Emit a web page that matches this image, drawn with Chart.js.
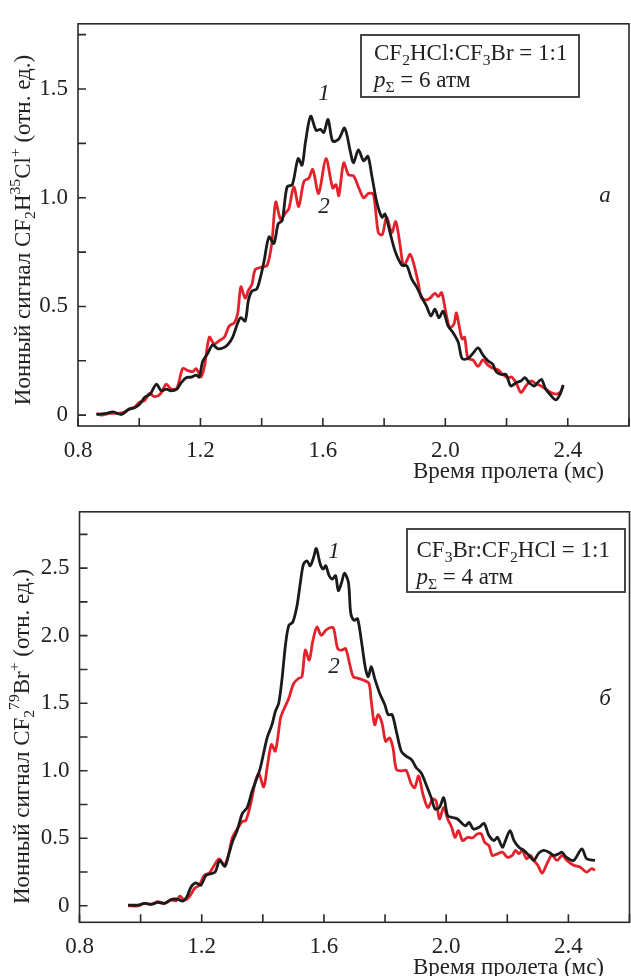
<!DOCTYPE html>
<html><head><meta charset="utf-8">
<script src="https://cdn.jsdelivr.net/npm/chart.js@4"></script>
<style>
html,body{margin:0;padding:0;background:#fff;overflow:hidden;width:631px;height:976px;position:relative}
.wrap{position:absolute;left:0;width:640px;height:488px}
</style></head><body>
<div class="wrap" style="top:0"><canvas id="c1" width="640" height="488"></canvas></div>
<div class="wrap" style="top:488px"><canvas id="c2" width="640" height="488"></canvas></div>
<script>
// ---- Panel a: CF2H35Cl+ signal ----
const timeA1 = [0.86,0.893,0.915,0.942,0.964,0.985,1.001,1.018,1.036,1.056,1.072,1.088,1.104,1.123,1.137,1.153,1.170,1.186,1.196,1.207,1.224,1.240,1.256,1.273,1.289,1.305,1.322,1.332,1.346,1.357,1.368,1.384,1.397,1.408,1.424,1.440,1.454,1.467,1.483,1.500,1.519,1.532,1.543,1.560,1.578,1.592,1.603,1.617,1.632,1.652,1.671,1.690,1.700,1.716,1.733,1.747,1.760,1.776,1.793,1.803,1.820,1.836,1.858,1.874,1.890,1.906,1.922,1.939,1.953,1.966,1.979,1.993,2.009,2.025,2.042,2.055,2.074,2.090,2.107,2.123,2.139,2.155,2.166,2.182,2.198,2.214,2.231,2.247,2.260,2.274,2.291,2.301,2.314,2.328,2.345,2.361,2.375,2.385];
const signalA1 = [0.003,0.008,0.015,0.003,0.025,0.034,0.05,0.082,0.097,0.142,0.112,0.12,0.112,0.12,0.149,0.172,0.175,0.184,0.175,0.246,0.284,0.324,0.306,0.309,0.324,0.358,0.425,0.448,0.433,0.53,0.57,0.58,0.64,0.71,0.82,0.79,0.88,0.895,1.05,1.06,1.18,1.15,1.255,1.375,1.31,1.314,1.30,1.36,1.26,1.27,1.32,1.21,1.16,1.22,1.17,1.19,1.10,0.98,0.91,0.925,0.836,0.754,0.69,0.687,0.627,0.59,0.545,0.50,0.456,0.488,0.448,0.478,0.41,0.38,0.336,0.26,0.26,0.284,0.309,0.276,0.25,0.234,0.20,0.187,0.187,0.134,0.149,0.157,0.172,0.149,0.134,0.149,0.164,0.12,0.09,0.07,0.097,0.139];
const timeA2 = [0.861,0.877,0.904,0.931,0.953,0.969,0.985,1.001,1.018,1.034,1.050,1.069,1.088,1.104,1.123,1.142,1.159,1.175,1.186,1.202,1.213,1.229,1.245,1.262,1.278,1.294,1.311,1.322,1.332,1.346,1.357,1.368,1.379,1.399,1.418,1.433,1.446,1.462,1.478,1.489,1.505,1.521,1.538,1.554,1.567,1.586,1.610,1.632,1.643,1.652,1.668,1.684,1.700,1.716,1.733,1.749,1.765,1.781,1.794,1.808,1.825,1.838,1.852,1.863,1.874,1.885,1.896,1.912,1.922,1.939,1.950,1.966,1.977,1.988,2.000,2.014,2.028,2.036,2.047,2.055,2.063,2.074,2.090,2.107,2.123,2.139,2.155,2.172,2.188,2.204,2.217,2.231,2.247,2.263,2.280,2.296,2.312,2.328,2.345,2.361,2.375,2.385];
const signalA2 = [0.008,0.0,0.008,0.008,0.015,0.03,0.037,0.06,0.067,0.10,0.085,0.097,0.142,0.12,0.124,0.214,0.205,0.20,0.214,0.175,0.224,0.358,0.328,0.343,0.358,0.41,0.425,0.47,0.59,0.538,0.575,0.60,0.67,0.68,0.69,0.79,0.98,0.90,0.93,0.95,1.05,0.96,1.075,1.09,1.13,1.02,1.18,1.045,1.06,1.01,1.16,1.105,1.10,1.05,1.00,1.02,1.015,0.84,0.83,0.91,0.84,0.89,0.784,0.687,0.71,0.74,0.70,0.605,0.538,0.53,0.538,0.56,0.545,0.563,0.485,0.403,0.418,0.47,0.396,0.35,0.358,0.26,0.254,0.224,0.254,0.23,0.216,0.209,0.187,0.172,0.175,0.149,0.104,0.134,0.157,0.145,0.134,0.12,0.104,0.097,0.104,0.134];
// ---- Panel б: CF2 79Br+ signal ----
const timeB1 = [0.959,0.991,1.013,1.035,1.056,1.078,1.100,1.121,1.138,1.151,1.165,1.181,1.197,1.214,1.230,1.244,1.259,1.276,1.289,1.302,1.316,1.333,1.349,1.365,1.381,1.392,1.414,1.430,1.441,1.452,1.463,1.474,1.485,1.498,1.512,1.523,1.533,1.544,1.555,1.566,1.575,1.588,1.598,1.606,1.617,1.628,1.638,1.647,1.658,1.667,1.680,1.688,1.699,1.710,1.723,1.736,1.745,1.755,1.766,1.783,1.799,1.810,1.823,1.837,1.853,1.869,1.886,1.902,1.918,1.934,1.951,1.964,1.978,1.992,2.005,2.021,2.037,2.054,2.064,2.075,2.089,2.108,2.124,2.140,2.157,2.168,2.184,2.194,2.209,2.222,2.238,2.254,2.271,2.287,2.303,2.319,2.336,2.352,2.368,2.379,2.393,2.417,2.444,2.460,2.487];
const signalB1 = [0.005,0.005,0.018,0.012,0.025,0.018,0.047,0.049,0.035,0.066,0.14,0.17,0.152,0.226,0.238,0.25,0.336,0.292,0.385,0.483,0.557,0.684,0.728,0.85,0.948,1.022,1.243,1.341,1.439,1.50,1.684,1.929,2.076,2.10,2.224,2.395,2.529,2.554,2.518,2.579,2.645,2.529,2.493,2.518,2.444,2.419,2.444,2.334,2.395,2.463,2.395,2.162,2.113,2.125,1.954,1.757,1.696,1.77,1.684,1.57,1.49,1.415,1.415,1.292,1.145,1.108,1.084,1.022,0.985,0.90,0.801,0.716,0.728,0.801,0.667,0.654,0.643,0.606,0.593,0.618,0.569,0.581,0.61,0.52,0.483,0.507,0.434,0.483,0.557,0.483,0.434,0.41,0.373,0.336,0.39,0.41,0.397,0.373,0.385,0.397,0.36,0.336,0.422,0.348,0.336];
const timeB2 = [0.959,0.991,1.013,1.035,1.056,1.078,1.100,1.116,1.129,1.143,1.159,1.176,1.192,1.208,1.225,1.241,1.257,1.273,1.287,1.300,1.316,1.333,1.344,1.360,1.376,1.387,1.403,1.414,1.428,1.441,1.458,1.468,1.485,1.501,1.517,1.528,1.539,1.552,1.563,1.577,1.591,1.606,1.617,1.631,1.645,1.658,1.671,1.685,1.696,1.712,1.728,1.747,1.755,1.766,1.777,1.790,1.802,1.815,1.826,1.837,1.853,1.869,1.886,1.897,1.910,1.924,1.940,1.956,1.967,1.978,1.992,2.005,2.018,2.029,2.040,2.054,2.070,2.086,2.102,2.115,2.126,2.140,2.151,2.168,2.184,2.200,2.216,2.227,2.238,2.249,2.263,2.276,2.287,2.300,2.314,2.330,2.346,2.363,2.379,2.395,2.417,2.438,2.460,2.476,2.487];
const signalB2 = [0.0,0.0,0.018,0.01,0.03,0.018,0.042,0.037,0.071,0.042,0.066,0.128,0.152,0.226,0.243,0.30,0.348,0.30,0.373,0.503,0.569,0.625,0.63,0.753,0.924,0.978,0.88,1.022,1.194,1.145,1.39,1.451,1.537,1.647,1.684,1.696,1.893,1.819,1.954,2.064,2.003,2.04,2.057,2.057,1.904,1.893,1.904,1.782,1.696,1.684,1.672,1.647,1.513,1.341,1.415,1.353,1.218,1.243,1.169,1.01,0.998,1.003,0.90,0.875,0.961,0.826,0.728,0.79,0.777,0.643,0.728,0.643,0.581,0.507,0.557,0.483,0.507,0.503,0.532,0.532,0.47,0.446,0.373,0.385,0.397,0.36,0.373,0.41,0.385,0.41,0.348,0.373,0.336,0.30,0.243,0.312,0.373,0.336,0.373,0.336,0.30,0.287,0.25,0.275,0.263];

const xTickLabels = ['0.8','1.2','1.6','2.0','2.4'];
const yTickLabelsA = ['0','0.5','1.0','1.5'];
const yTickLabelsB = ['0','0.5','1.0','1.5','2.0','2.5'];
const xTitle = 'Время пролета (мс)';
const curveNames = ['1','2'];

const FONT = '"Liberation Serif","Times New Roman",serif';
const BLACK = '#1b1b1b', RED = '#e5212b', AXIS = '#2a2a2a';
const TXT = 23;

function richWidth(ctx, segs, size){
  let w=0;
  for(const s of segs){
    const fs = s.s ? size*0.68 : size;
    ctx.font = (s.i?'italic ':'') + fs + 'px ' + FONT;
    w += ctx.measureText(s.t).width;
  }
  return w;
}
function drawRich(ctx, segs, x, y, size, align){
  const w = richWidth(ctx, segs, size);
  let cx = align==='center' ? x - w/2 : (align==='right' ? x - w : x);
  ctx.textBaseline = 'alphabetic';
  ctx.textAlign = 'left';
  for(const s of segs){
    const fs = s.s ? size*0.68 : size;
    ctx.font = (s.i?'italic ':'') + fs + 'px ' + FONT;
    let dy = 0;
    if(s.s==='sub') dy = size*0.22;
    if(s.s==='sup') dy = -size*0.42;
    ctx.fillText(s.t, cx, y+dy);
    cx += ctx.measureText(s.t).width;
  }
}

function makePanel(canvasId, cfg){
  const tickLen = 8;
  const deco = {
    id:'deco'+canvasId,
    afterDraw(chart){
      const ctx = chart.ctx, a = chart.chartArea;
      const xs = chart.scales.x, ys = chart.scales.y;
      ctx.save();
      ctx.strokeStyle = AXIS; ctx.lineWidth = 1.6;
      ctx.strokeRect(a.left, a.top, a.right-a.left, a.bottom-a.top);
      ctx.beginPath();
      xs.ticks.forEach(t=>{ const p = xs.getPixelForValue(t.value); ctx.moveTo(p, a.bottom); ctx.lineTo(p, a.bottom-tickLen); });
      ys.ticks.forEach(t=>{ const p = ys.getPixelForValue(t.value); ctx.moveTo(a.left, p); ctx.lineTo(a.left+tickLen, p); });
      ctx.stroke();
      ctx.fillStyle = '#222';
      ctx.save();
      ctx.translate(cfg.yTitleX, cfg.yTitleY);
      ctx.rotate(-Math.PI/2);
      drawRich(ctx, cfg.yTitle, 0, 8, TXT, 'center');
      ctx.restore();
      drawRich(ctx, [{t:xTitle}], cfg.xTitleRight, cfg.xTitleBase, TXT, 'right');
      const b = cfg.box;
      ctx.lineWidth = 1.8; ctx.strokeStyle = '#333';
      ctx.strokeRect(b.x, b.y, b.w, b.h);
      drawRich(ctx, cfg.boxLine1, b.x+b.tx, b.y+b.l1, TXT, 'left');
      drawRich(ctx, cfg.boxLine2, b.x+b.tx, b.y+b.l2, TXT, 'left');
      cfg.labels.forEach(l=> drawRich(ctx, [{t:l.t, i:true}], l.x, l.y, TXT, 'center'));
      ctx.restore();
    }
  };
  const tickFont = {family: FONT, size: TXT};
  return new Chart(document.getElementById(canvasId), {
    type:'line',
    data:{datasets:[
      {label:curveNames[0], data: cfg.t1.map((x,i)=>({x, y: cfg.s1[i]})), borderColor: BLACK, borderWidth: 2.8, pointRadius:0, tension:0.3, fill:false},
      {label:curveNames[1], data: cfg.t2.map((x,i)=>({x, y: cfg.s2[i]})), borderColor: RED, borderWidth: 2.8, pointRadius:0, tension:0.3, fill:false}
    ]},
    options:{
      responsive:false, animation:false, devicePixelRatio:1,
      layout:{padding:{top:cfg.padTop, right:cfg.padRight, left:0, bottom:0}},
      plugins:{legend:{display:false}, tooltip:{enabled:false}},
      scales:{
        x:{type:'linear', min:0.8, max:2.6,
          afterBuildTicks(s){ const t=[]; for(let i=0;i<=9;i++) t.push({value:+(0.8+0.2*i).toFixed(1)}); s.ticks=t; },
          afterFit(s){ s.height = cfg.xHeight; },
          grid:{display:false, drawTicks:false}, border:{display:false},
          ticks:{autoSkip:false, maxRotation:0, padding:cfg.xPad, color:'#222', font:tickFont,
            callback(v){ const s = xTickLabels.find(l=>Math.abs(parseFloat(l)-v)<1e-6); return s===undefined?'':s; }}
        },
        y:{type:'linear', min:cfg.yMin, max:cfg.yMax,
          afterBuildTicks(s){ const t=[]; for(let v=0; v<=cfg.yTop+1e-9; v+=0.25) t.push({value:+v.toFixed(2)}); s.ticks=t; },
          afterFit(s){ s.width = cfg.yWidth; },
          grid:{display:false, drawTicks:false}, border:{display:false},
          ticks:{autoSkip:false, padding:10, color:'#222', font:tickFont,
            callback(v){ const s = cfg.yLabels.find(l=>Math.abs(parseFloat(l)-v)<1e-6); return s===undefined?'':s; }}
        }
      }
    },
    plugins:[deco]
  });
}

makePanel('c1', {
  t1:timeA1, s1:signalA1, t2:timeA2, s2:signalA2,
  yMin:-0.05, yMax:1.8, yTop:1.75, yLabels:yTickLabelsA,
  padTop:14, padRight:8, yWidth:78, xHeight:62, xPad:11,
  yTitle:[{t:'Ионный сигнал CF'},{t:'2',s:'sub'},{t:'H'},{t:'35',s:'sup'},{t:'Cl'},{t:'+',s:'sup'},{t:' (отн. ед.)'}],
  yTitleX:22, yTitleY:230,
  xTitleRight:604, xTitleBase:478,
  box:{x:361,y:35,w:218,h:62,tx:13,l1:24.5,l2:52},
  boxLine1:[{t:'CF'},{t:'2',s:'sub'},{t:'HCl:CF'},{t:'3',s:'sub'},{t:'Br = 1:1'}],
  boxLine2:[{t:'p',i:true},{t:'Σ',s:'sub'},{t:' = 6 атм'}],
  labels:[{t:curveNames[0],x:324,y:100},{t:curveNames[1],x:324,y:213},{t:'а',x:605,y:202}]
});
makePanel('c2', {
  t1:timeB1, s1:signalB1, t2:timeB2, s2:signalB2,
  yMin:-0.122, yMax:2.917, yTop:2.75, yLabels:yTickLabelsB,
  padTop:21, padRight:7, yWidth:79.5, xHeight:53.7, xPad:10.5,
  yTitle:[{t:'Ионный сигнал CF'},{t:'2',s:'sub'},{t:'79',s:'sup'},{t:'Br'},{t:'+',s:'sup'},{t:' (отн. ед.)'}],
  yTitleX:21, yTitleY:248.5,
  xTitleRight:604, xTitleBase:486,
  box:{x:407,y:41,w:218,h:63,tx:9.5,l1:28,l2:55},
  boxLine1:[{t:'CF'},{t:'3',s:'sub'},{t:'Br:CF'},{t:'2',s:'sub'},{t:'HCl = 1:1'}],
  boxLine2:[{t:'p',i:true},{t:'Σ',s:'sub'},{t:' = 4 атм'}],
  labels:[{t:curveNames[0],x:334,y:70},{t:curveNames[1],x:334,y:185},{t:'б',x:605,y:217}]
});
</script>
</body></html>
